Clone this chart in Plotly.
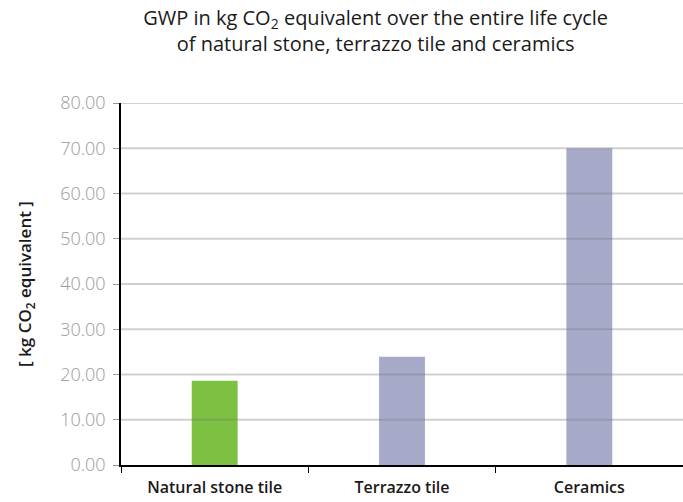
import plotly.graph_objects as go

categories = ["Natural stone tile", "Terrazzo tile", "Ceramics"]
values = [18.6, 23.9, 70.0]
bar_colors = ["#7DC142", "#A7A9C9", "#A7A9C9"]
y_ticks = [0, 10, 20, 30, 40, 50, 60, 70, 80]

fig = go.Figure()
fig.add_trace(go.Bar(x=categories, y=values, marker=dict(color=bar_colors, line=dict(width=0)),
                     width=0.245, hoverinfo="x+y"))

for t in y_ticks[1:]:
    fig.add_shape(type="line", xref="paper", x0=0, x1=1, yref="y", y0=t, y1=t,
                  line=dict(color="rgba(120,120,120,0.35)", width=2), layer="above")

fig.update_layout(
    width=683, height=502,
    margin=dict(l=121, r=0, t=103, b=37),
    paper_bgcolor="white", plot_bgcolor="white",
    showlegend=False,
    font=dict(family="Open Sans", color="black"),
    title=dict(text="GWP in kg CO<sub>2</sub> equivalent over the entire life cycle<br>of natural stone, terrazzo tile and ceramics",
               x=0.55, xanchor="center", y=0.95, yanchor="top",
               font=dict(size=20, family="Open Sans", weight=500, color="#1a1a1a")),
    xaxis=dict(showline=True, linecolor="black", linewidth=1.5, ticks="outside", tickson="boundaries",
               ticklen=6, tickcolor="black", tickfont=dict(size=16, weight=600, color="#1a1a1a"),
               ticklabelstandoff=7, showgrid=False),
    yaxis=dict(range=[0, 80], tickvals=y_ticks, tickformat=".2f", showline=True, linecolor="black",
               linewidth=1.5, ticks="outside", ticklen=6, tickcolor="#999999", showgrid=False,
               ticklabelstandoff=4,
               zeroline=False, tickfont=dict(size=18, color="#9a9a9a", family="Open Sans", weight=300),
               title=dict(text="[ kg CO<sub>2</sub> equivalent ]", standoff=24,
                          font=dict(size=17, weight=600, color="#1a1a1a"))),
)

fig.write_html("out.html", config={"displayModeBar": False},
               post_script="document.body.style.margin='0';document.body.style.overflow='hidden';")
